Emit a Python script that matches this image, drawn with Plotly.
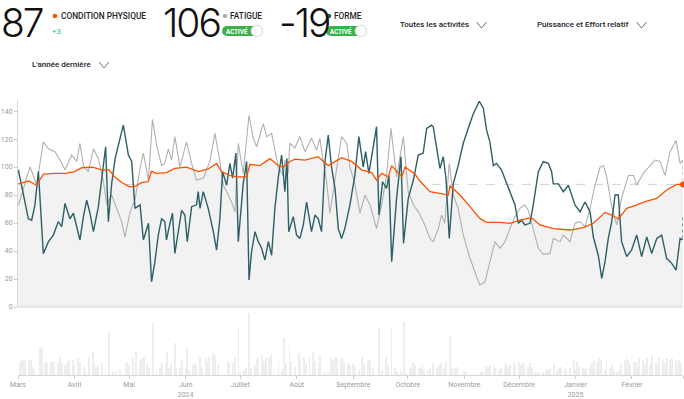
import pandas as pd
import plotly.graph_objects as go

W, H = 684, 399
START = pd.Timestamp("2024-03-01")

# ---------------- data (day offset from 2024-03-01, value) ----------------
fitness_day = [0, 6, 10, 14, 20, 26, 31, 35, 41, 46, 50, 53, 57, 61, 64, 68, 71.5, 73.3, 76, 81.5, 86, 92.5, 99,
               104.4, 109, 111.7, 116.3, 120, 125.5, 127.3, 132.8, 138.3, 142.9, 145.6, 149.3, 152, 157.5, 164.8,
               170.3, 177.6, 183.1, 188.6, 194.1, 196.8, 199.6, 203.2, 205.1, 210.6, 212.4, 217.9, 220.6, 226.1,
               231.6, 236.2, 237.1, 242.6, 248.1, 253.5, 257.2, 264.5, 270, 275.5, 281.9, 286.5, 293.8, 297.5, 303,
               310.3, 315.8, 322.2, 325.9, 329.5, 334.1, 339.6, 345.1, 350.6, 356, 361.5, 365]
fitness_val = [88, 90, 87, 95, 95.5, 95.5, 96.7, 99.5, 100, 98, 98, 93, 89, 86, 86, 89, 89.5, 97, 95.5, 96, 99, 100,
               96.7, 98.6, 102.6, 96.7, 94, 93, 93, 102, 101, 106, 101, 100, 104, 105.7, 105, 107.4, 101, 106.7, 104,
               98, 96, 90.7, 95.5, 93, 101, 93, 100, 95, 90, 82.4, 81.2, 80, 86.7, 80, 71.7, 63.3, 60.5, 60.5, 59.8,
               62, 63.8, 58.6, 56, 55.7, 55, 56.7, 59.8, 67.6, 65.7, 62.9, 70.5, 72.9, 75.7, 77.6, 83.6, 87.6, 87.6]

fatigue_day = [0.2, 2, 4.8, 6.6, 8.4, 10.2, 13.9, 16.7, 20.3, 23.1, 25.8, 29.5, 32.2, 34, 35.9, 38.6, 41.4, 44.1,
               46.9, 48.7, 51.4, 54.2, 56.9, 58.7, 61.5, 64.2, 67, 68.8, 71.6, 73.8, 76.1, 78.8, 80.6, 82.5, 84.3,
               86.1, 88.9, 92.5, 95.3, 98, 101.7, 105.3, 108.1, 110.8, 112.7, 115.4, 117.2, 119.1, 120.9, 123.6,
               126.8, 129.1, 131, 134.6, 136.5, 139.2, 142.9, 145.6, 146.5, 148.3, 149.2, 152, 154.7, 157.5, 161.1,
               163.9, 165.7, 167.5, 169.4, 171.2, 174, 177.6, 180.4, 182.2, 184.9, 187.7, 190.4, 193.2, 196.8,
               199.6, 202.3, 204.7, 207.8, 211.5, 214.2, 217, 219.7, 223.3, 226.1, 227.9, 230.7, 232.5, 234.3,
               236.7, 238.9, 241.6, 244.4, 248.1, 251.7, 253.5, 256.3, 259, 261.8, 264.5, 267.3, 270, 272.8, 275.5,
               278.2, 280.1, 282.8, 285.6, 288.3, 292, 293.8, 297.5, 299.3, 303, 305.7, 308.5, 311.2, 314, 316.7,
               319.5, 321.3, 323.1, 325.9, 328.6, 331.3, 335, 337.8, 339.6, 343.2, 346.9, 349.6, 352.4, 355.1,
               357.9, 361.2, 363.4, 365]
fatigue_val = [72.9, 80, 93, 100, 94, 87, 118, 113, 111, 105, 98, 108.6, 104, 117, 101, 96.7, 113, 106, 89.5, 73,
               80, 70.5, 61, 50, 68, 76.4, 99, 110, 90.7, 134, 115.7, 101, 102.6, 113, 105, 121.7, 100, 118, 102.6,
               90.7, 92, 104, 124, 104, 87, 80, 75, 68, 117, 95.5, 137, 120.5, 114.5, 131, 121.7, 124, 100, 94, 105,
               95.5, 117, 113.6, 121.7, 111, 120.5, 112, 120.5, 104, 89.5, 67, 92, 121.7, 117, 100, 88, 67, 80, 73,
               56, 73, 94, 127.6, 93, 121.7, 82, 73, 68, 58.6, 49, 46.7, 56, 65.7, 59.8, 102.6, 80, 70.5, 51.4,
               34.8, 21.7, 15.7, 18, 32, 46.7, 42, 46.7, 56, 64.5, 70.5, 72.9, 69, 56, 42, 37.6, 38.3, 49, 46.7,
               51.4, 46.7, 59.8, 61, 57.4, 70.5, 87, 100, 101, 93, 71.7, 58.6, 77.6, 94, 94, 87, 95.5, 101, 105,
               104, 94, 111, 119, 102.6, 105]

form_day = [0.2, 2, 3.8, 5.7, 7.5, 9.3, 11.2, 13, 13.9, 16.7, 19.4, 22.1, 24, 25.8, 28.5, 30.4, 34, 35.9, 37.7,
            39.5, 41.4, 44.1, 46.3, 48.1, 49.6, 51.4, 53.3, 55.4, 57.8, 60.6, 62.4, 64.2, 67, 68.8, 71.6, 73.3,
            75.1, 77, 78.8, 80.6, 81.5, 83.4, 84.8, 86.1, 88, 89.8, 91.6, 92.9, 95.3, 98, 98.9, 99.9, 101.7, 104.4,
            107.2, 109, 110.8, 112.3, 114.5, 116.3, 117.8, 119.6, 120.9, 123.6, 125.5, 126.8, 128.2, 130.1, 131.9,
            133.7, 135.5, 137.4, 139.2, 141, 142.9, 144.7, 146.5, 147.6, 148.6, 151.1, 152.9, 154.7, 156.6, 158.4,
            161.1, 163, 164.8, 166.6, 168.5, 170.3, 172.1, 174, 175.8, 177.6, 179.4, 182.2, 184.9, 187.1, 189.5,
            190.8, 192.6, 194.4, 196.8, 198.1, 200.1, 202.3, 203.6, 205.1, 207.8, 210.2, 211.6, 214.2, 217, 219.7,
            222.4, 224.3, 227, 227.9, 229.8, 231.6, 233.4, 234.9, 236.7, 238.9, 241.6, 244.4, 247.1, 249.9, 253.2,
            255.4, 257.2, 259, 260.9, 262.7, 265.4, 268.2, 270, 272.8, 274.6, 276.4, 278.2, 281, 282.8, 285.6,
            288.3, 291.1, 292.9, 293.8, 296.6, 299.3, 302.1, 303.9, 305.7, 308.5, 311.2, 314, 315.8, 318.5, 320.4,
            322.2, 324, 325.9, 327.7, 329.5, 331.3, 334.1, 336.8, 339.6, 342.3, 345.1, 347.8, 350.6, 353.3, 356,
            358.8, 361.2, 363.4, 364.8]
form_val = [97.9, 87, 75, 63, 62, 73, 96.7, 56, 38, 46.7, 51.4, 61, 57.4, 74, 63, 67, 47.9, 64.5, 76.4, 67, 53.8,
            71.7, 94, 114.5, 61, 88, 106, 118, 130, 108.6, 104, 70.5, 73, 47.9, 59.8, 18, 32, 51.4, 63, 61, 47.9,
            59.8, 67, 38.3, 55, 69, 65.7, 46.7, 71.7, 73, 82.4, 70.5, 82.4, 70.5, 53.8, 40.7, 63, 96.7, 87, 102.6,
            92, 110, 46.7, 88, 104, 19.3, 39.5, 53.8, 46.7, 42, 33.6, 46.7, 37, 70.5, 93, 108.6, 82.4, 106, 53.8,
            64.5, 51.4, 49, 58.6, 75, 53.8, 65.7, 63, 53.8, 104, 122.8, 100, 84.8, 56, 49, 56, 73, 94, 121.7, 100,
            111, 95.5, 111, 128.8, 65.7, 89.5, 84.8, 94, 32.4, 77.6, 107.4, 45.5, 77.6, 90.7, 108.6, 110, 127.6,
            130, 128.8, 113, 99, 107.4, 92, 49, 88, 101, 117, 127.6, 138, 147, 142, 126.4, 118, 101, 102.6, 97.9,
            88, 82.4, 72.9, 59.8, 62, 58.6, 59.8, 72.9, 96.7, 103.8, 102.6, 96.7, 88, 88, 82.4, 87, 80, 72.9, 68,
            75, 68, 50, 37, 20.5, 32.4, 49, 61, 80, 80, 46.7, 36, 40.7, 51.4, 36, 50, 38.3, 49, 51.4, 34.8, 31.2,
            26.4, 49, 47.9]

# dotted "today" connectors at the right edge
fatigue_today = [105, 89]
form_today = [64, 49]

bar_day = [1, 2, 3, 4, 6, 7, 8, 9, 12, 13, 15, 16, 18, 19, 20, 22, 23, 24, 26, 27, 28, 30, 31, 33, 34, 36, 37, 39,
           41, 42, 43, 44, 46, 48, 50, 52, 54, 56, 59, 60, 61, 63, 65, 67, 68, 69, 71, 72, 74, 76, 78, 79, 81, 82,
           83, 84, 86, 87, 89, 90, 92, 93, 94, 96, 97, 98, 100, 101, 103, 104, 105, 107, 108, 110, 115, 116, 118,
           119, 121, 122, 124, 125, 127, 128, 130, 131, 132, 134, 135, 136, 138, 139, 143, 145, 146, 147, 149, 150,
           152, 154, 155, 157, 158, 160, 162, 163, 165, 166, 168, 170, 172, 173, 174, 175, 177, 178, 179, 181, 182,
           184, 185, 187, 189, 190, 192, 193, 195, 198, 200, 202, 203, 205, 207, 208, 210, 212, 213, 215, 216, 217,
           218, 220, 221, 222, 223, 225, 226, 228, 230, 231, 232, 234, 235, 237, 238, 240, 241, 245, 246, 254, 255,
           257, 258, 259, 261, 262, 264, 265, 267, 268, 269, 270, 272, 273, 275, 276, 277, 278, 280, 281, 282, 284,
           285, 286, 288, 290, 291, 292, 294, 296, 297, 298, 300, 301, 303, 305, 306, 307, 308, 310, 311, 312, 314,
           315, 316, 318, 319, 320, 322, 323, 325, 326, 327, 329, 330, 331, 333, 334, 335, 336, 338, 339, 340, 341,
           343, 344, 345, 347, 348, 350, 351, 352, 354, 355, 356, 358, 359, 361, 362, 363, 364]
bar_effort = [40, 45, 42, 45, 45, 45, 25, 15, 85, 80, 40, 35, 40, 42, 40, 35, 55, 40, 30, 40, 45, 45, 30, 50, 40, 25,
              10, 55, 70, 40, 25, 30, 35, 15, 130, 10, 10, 15, 35, 40, 30, 50, 70, 45, 50, 55, 30, 20, 155, 15, 25,
              40, 35, 70, 20, 35, 95, 20, 20, 45, 25, 80, 15, 30, 35, 30, 55, 25, 50, 40, 55, 65, 60, 30, 45, 40, 35,
              50, 148, 10, 15, 25, 186, 20, 30, 50, 55, 60, 40, 55, 50, 60, 40, 15, 110, 35, 88, 40, 25, 65, 50, 55,
              35, 55, 70, 40, 40, 60, 10, 10, 50, 45, 55, 50, 45, 50, 40, 35, 30, 35, 25, 15, 55, 35, 45, 45, 25, 140,
              15, 55, 30, 140, 25, 10, 15, 160, 10, 20, 25, 40, 30, 20, 25, 35, 15, 15, 20, 35, 25, 30, 35, 20, 40,
              120, 20, 20, 25, 10, 10, 10, 10, 30, 25, 30, 30, 20, 15, 20, 25, 35, 25, 30, 35, 30, 40, 30, 35, 30,
              25, 35, 25, 10, 5, 10, 10, 15, 15, 20, 35, 15, 20, 25, 20, 15, 20, 45, 15, 40, 25, 20, 15, 20, 25, 35,
              45, 40, 55, 45, 15, 45, 20, 30, 15, 10, 15, 35, 45, 55, 45, 35, 40, 40, 20, 55, 45, 30, 50, 30, 60, 40,
              30, 50, 45, 35, 50, 45, 50, 45, 30, 45, 35]

month_ticks = ["2024-03-01", "2024-04-01", "2024-05-01", "2024-06-01", "2024-07-01", "2024-08-01", "2024-09-01",
               "2024-10-01", "2024-11-01", "2024-12-01", "2025-01-01", "2025-02-01", "2025-03-01"]
month_labels = ["Mars", "Avril", "Mai", "Juin<br>2024", "Juillet", "Août", "Septembre", "Octobre", "Novembre",
                "Décembre", "Janvier<br>2025", "Février", "Mars"]

current_fitness = 87
fitness_delta = "+3"
current_fatigue = 106
current_form = -19

# ---------------- helpers ----------------
def to_dates(days):
    return [START + pd.Timedelta(days=float(d)) for d in days]

def px(x):
    return x / W

def py(y):
    return 1 - y / H

ORANGE = "#fc5200"
GREY = "#b0b0b0"
TEAL = "#2d5f66"
FONT = "Roboto"
NUMFONT = "Inter"
END = [fitness_day[-1], fitness_day[-1]]

fig = go.Figure()

# fill under fitness
fig.add_trace(go.Scatter(x=to_dates(fitness_day), y=fitness_val, mode="lines", line=dict(width=0),
                         fill="tozeroy", fillcolor="#f2f2f2", hoverinfo="skip", xaxis="x", yaxis="y"))
fig.add_trace(go.Scatter(x=to_dates(fatigue_day), y=fatigue_val, mode="lines",
                         line=dict(color=GREY, width=1.1), xaxis="x", yaxis="y"))
fig.add_trace(go.Scatter(x=to_dates(form_day), y=form_val, mode="lines",
                         line=dict(color=TEAL, width=1.4), xaxis="x", yaxis="y"))
fig.add_trace(go.Scatter(x=to_dates(END), y=fatigue_today, mode="lines", cliponaxis=False,
                         line=dict(color=GREY, width=1.2, dash="dot"), xaxis="x", yaxis="y"))
fig.add_trace(go.Scatter(x=to_dates(END), y=form_today, mode="lines", cliponaxis=False,
                         line=dict(color=TEAL, width=1.2, dash="dot"), xaxis="x", yaxis="y"))
fig.add_trace(go.Scatter(x=to_dates(fitness_day), y=fitness_val, mode="lines",
                         line=dict(color=ORANGE, width=1.3), xaxis="x", yaxis="y"))
fig.add_trace(go.Scatter(x=to_dates(fitness_day[-1:]), y=fitness_val[-1:], mode="markers",
                         marker=dict(color=ORANGE, size=6), cliponaxis=False, xaxis="x", yaxis="y"))

# daily effort bars
fig.add_trace(go.Bar(x=to_dates(bar_day), y=bar_effort, marker=dict(color="#eeeeee", line=dict(width=0)),
                     width=0.5 * 86400000, xaxis="x", yaxis="y2"))

x0p, x1p = px(18), px(683)
main_bot, main_top = py(307), py(100)
bar_bot = py(375)

fig.update_layout(
    width=W, height=H, margin=dict(l=0, r=0, t=0, b=0, autoexpand=False),
    paper_bgcolor="white", plot_bgcolor="white", showlegend=False, bargap=0,
    font=dict(family=FONT, color="#242428"),
    xaxis=dict(domain=[x0p, x1p], anchor="y2", type="date", automargin=False,
               range=[START, START + pd.Timedelta(days=365)],
               tickvals=month_ticks, ticktext=month_labels, ticks="outside", ticklen=3,
               tickcolor="#cccccc", showline=True, linecolor="#d6d6d6", linewidth=1,
               showgrid=False, zeroline=False, tickfont=dict(size=7, color="#9a9a9a", family=FONT)),
    yaxis=dict(domain=[main_bot, main_top], range=[0, 147.9], tickvals=[0, 20, 40, 60, 80, 100, 120, 140],
               ticks="outside", ticklen=3, tickcolor="#cccccc", showline=True, linecolor="#d6d6d6",
               automargin=False,
               showgrid=False, zeroline=False, tickfont=dict(size=7, color="#9a9a9a", family=FONT)),
    yaxis2=dict(domain=[bar_bot, main_bot], range=[0, 204], visible=False, automargin=False),
)

shapes = []
# bottom line of the main chart
shapes.append(dict(type="line", xref="paper", yref="paper", x0=x0p, x1=x1p, y0=main_bot, y1=main_bot,
                   line=dict(color="#d6d6d6", width=1)))
# dashed current fitness level
shapes.append(dict(type="line", xref="paper", yref="y", x0=x0p, x1=x1p, y0=current_fitness + 0.6,
                   y1=current_fitness + 0.6, line=dict(color="#d2d2d2", width=1, dash="dash"), layer="below"))


def chevron(cx, cy, w=5, h=3):
    return dict(type="path", xref="paper", yref="paper",
                path=f"M {px(cx - w)} {py(cy - h)} L {px(cx)} {py(cy + h)} L {px(cx + w)} {py(cy - h)}",
                line=dict(color="#6d6d78", width=1))


shapes += [chevron(481.5, 25), chevron(641.5, 25), chevron(104, 65)]


def dot(cx, cy, color, r=2.3):
    return dict(type="circle", xref="paper", yref="paper", x0=px(cx - r), x1=px(cx + r), y0=py(cy + r),
                y1=py(cy - r), fillcolor=color, line=dict(width=0))


shapes += [dot(55, 16, ORANGE), dot(225, 16, GREY), dot(329, 16, TEAL)]


def toggle(xl, xr, yt, yb):
    r = (yb - yt) / 2
    out = [dict(type="rect", xref="paper", yref="paper", x0=px(xl + r), x1=px(xr - r), y0=py(yb), y1=py(yt),
                fillcolor="#3bb14a", line=dict(width=0)),
           dict(type="circle", xref="paper", yref="paper", x0=px(xl), x1=px(xl + 2 * r), y0=py(yb), y1=py(yt),
                fillcolor="#3bb14a", line=dict(width=0)),
           dict(type="circle", xref="paper", yref="paper", x0=px(xr - 2 * r), x1=px(xr), y0=py(yb), y1=py(yt),
                fillcolor="#3bb14a", line=dict(width=0)),
           dict(type="circle", xref="paper", yref="paper", x0=px(xr - 11), x1=px(xr + 0.5), y0=py(yb + 0.8),
                y1=py(yt - 0.8), fillcolor="white", line=dict(color="#d0d0d0", width=0.8))]
    return out


shapes += toggle(222, 262, 26, 36)
shapes += toggle(326, 366, 26, 36)
fig.update_layout(shapes=shapes)

ann = []


def text(x, y, s, size, color="#242428", anchor="left", weight=None, family=FONT, yanchor="middle", height=None):
    f = dict(size=size, color=color, family=family)
    if weight:
        f["weight"] = weight
    a = dict(x=px(x), y=py(y), xref="paper", yref="paper", text=s, showarrow=False,
             xanchor=anchor, yanchor=yanchor, font=f, borderpad=0)
    if height:
        a["height"] = height
        a["valign"] = "middle"
    ann.append(a)


def big(v):
    return f"<span style='letter-spacing:-2px'>{v}</span>"


text(0, 0, big(current_fitness), 39, color="#111111", weight=300, family=NUMFONT, yanchor="top", height=42)
text(60, 16, "CONDITION PHYSIQUE", 8.3, weight=500)
text(51, 31, fitness_delta, 8, color="#3bb870")
text(162, 0, big(current_fatigue), 39, color="#111111", weight=300, family=NUMFONT, yanchor="top", height=42)
text(229, 16, "FATIGUE", 8.3, weight=500)
text(225, 31, "ACTIVÉ", 6.3, color="white", weight=700)
text(278, 0, big(current_form), 39, color="#111111", weight=300, family=NUMFONT, yanchor="top", height=42)
text(333, 16, "FORME", 8.3, weight=500)
text(329, 31, "ACTIVÉ", 6.3, color="white", weight=700)
text(399, 25, "Toutes les activités", 8, weight=500)
text(536, 25, "Puissance et Effort relatif", 8, weight=500)
text(31, 65, "L'année dernière", 8, weight=500)
fig.update_layout(annotations=ann)

fig.write_html("out.html", config={"displayModeBar": False},
               post_script="document.body.style.margin='0';document.body.style.padding='0';")
